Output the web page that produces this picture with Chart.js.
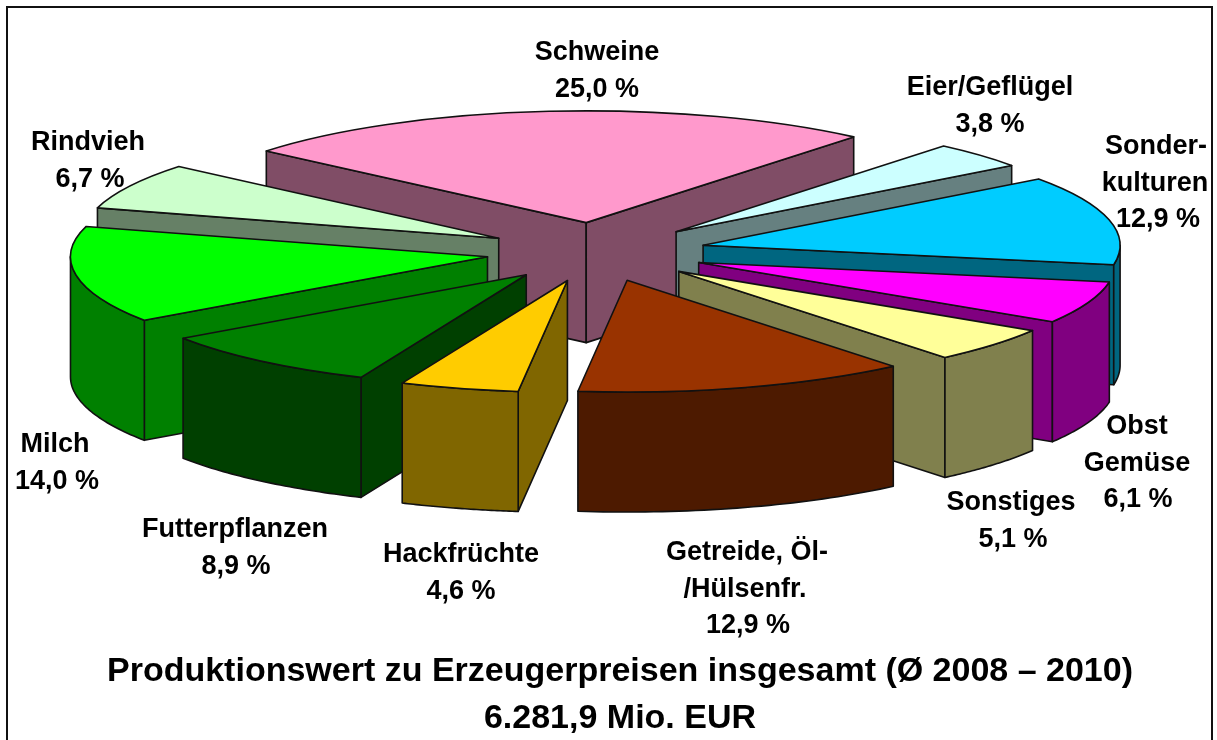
<!DOCTYPE html>
<html><head><meta charset="utf-8">
<style>html,body{margin:0;padding:0;background:#fff}#wrap{width:1217px;height:740px}</style>
<script src="https://cdn.jsdelivr.net/npm/chart.js@4"></script>
</head><body><div id="wrap"><canvas id="c" width="1217" height="740"></canvas></div>
<script>
const categories = ['Schweine','Eier/Geflügel','Sonderkulturen','Obst Gemüse','Sonstiges','Getreide, Öl-/Hülsenfr.','Hackfrüchte','Futterpflanzen','Milch','Rindvieh'];
const shares = [25.0,3.8,12.9,6.1,5.1,12.9,4.6,8.9,14.0,6.7];
const topColors = ['#FF99CC','#CCFFFF','#00CCFF','#FF00FF','#FFFF99','#993300','#FFCC00','#008000','#00FF00','#CCFFCC'];
const wallColors = ['#804D66','#668080','#006680','#800080','#80804D','#4D1A00','#806600','#004000','#008000','#668066'];
const titleLines = ['Produktionswert zu Erzeugerpreisen insgesamt (Ø 2008 – 2010)','6.281,9 Mio. EUR'];
const labelLines = [['Schweine','25,0 %'],['Eier/Geflügel','3,8 %'],['Sonder-','kulturen','12,9 %'],['Obst','Gemüse','6,1 %'],['Sonstiges','5,1 %'],['Getreide, Öl-','/Hülsenfr.','12,9 %'],['Hackfrüchte','4,6 %'],['Futterpflanzen','8,9 %'],['Milch','14,0 %'],['Rindvieh','6,7 %']];
// label anchor (centre x per line, first baseline y), line pitch
const labelAnchors = [[[597,597],60],[[990,990],95],[[1156,1155,1158],154],[[1137,1137,1138],434],[[1011,1013],510],[[747,745,748],560],[[461,461],562],[[235,236],537],[[55,57],452],[[88,90],150]];
const view = {cx:596, cy:252, squash:0.268, radius:417, explode:110, depth:120, rotation:-50.1};

const pie3d = {
  id:'pie3d',
  beforeDatasetDraw(chart, args){
    const ctx = chart.ctx, arcs = args.meta.data;
    const order = arcs.map((a,i)=>i).sort((p,q)=>{
      const m=i=>(arcs[i].startAngle+arcs[i].endAngle)/2; return Math.sin(m(p))-Math.sin(m(q));});
    ctx.save();
    ctx.lineJoin='round';
    ctx.strokeStyle='#111'; ctx.lineWidth=1.6;
    for(const i of order){
      const a=arcs[i], mid=(a.startAngle+a.endAngle)/2, R=a.outerRadius, wall=wallColors[i];
      const face=(draw)=>{ctx.fillStyle=wall; ctx.beginPath(); draw(); ctx.closePath();
        ctx.setTransform(1,0,0,1,0,0); ctx.fill(); ctx.stroke();};
      const ox=view.cx+Math.cos(mid)*view.explode, oy=view.cy+Math.sin(mid)*view.explode*view.squash;
      const P=(t,r)=>[ox+Math.cos(t)*r, oy+Math.sin(t)*r*view.squash];
      const radial=(t)=>{const e=P(t,R); face(()=>{ctx.moveTo(ox,oy);ctx.lineTo(e[0],e[1]);ctx.lineTo(e[0],e[1]+view.depth);ctx.lineTo(ox,oy+view.depth);});};
      if(Math.cos(a.startAngle)<0) radial(a.startAngle);
      if(Math.cos(a.endAngle)>0) radial(a.endAngle);
      // outer curved wall: front-facing angles only
      for(let k=-1;k<=2;k++){
        const lo=Math.max(a.startAngle,k*2*Math.PI), hi=Math.min(a.endAngle,k*2*Math.PI+Math.PI);
        if(hi>lo){
          face(()=>{
            const steps=40;
            for(let s=0;s<=steps;s++){const p=P(lo+(hi-lo)*s/steps,R); s?ctx.lineTo(p[0],p[1]):ctx.moveTo(p[0],p[1]);}
            for(let s=steps;s>=0;s--){const p=P(lo+(hi-lo)*s/steps,R); ctx.lineTo(p[0],p[1]+view.depth);}
          });
        }
      }
      // top face: the library's own arc element, drawn through the squash transform
      ctx.save();
      ctx.setTransform(1,0,0,view.squash, ox-a.x, oy-a.y*view.squash);
      a.draw(ctx);
      ctx.restore();
      ctx.save();
      ctx.setTransform(1,0,0,view.squash, ox, oy);
      ctx.beginPath(); ctx.moveTo(0,0); ctx.arc(0,0,R,a.startAngle,a.endAngle); ctx.closePath();
      ctx.setTransform(1,0,0,1,0,0); ctx.stroke();
      ctx.restore();
    }
    ctx.restore();
    return false;
  },
  afterDraw(chart){
    const ctx=chart.ctx; ctx.save();
    ctx.strokeStyle='#111'; ctx.lineWidth=2;
    ctx.beginPath(); ctx.moveTo(7,740); ctx.lineTo(7,7); ctx.lineTo(1212,7); ctx.lineTo(1212,740); ctx.stroke();
    ctx.fillStyle='#000'; ctx.textAlign='center'; ctx.textBaseline='alphabetic';
    ctx.font='bold 27px "Liberation Sans", Arial, sans-serif';
    labelLines.forEach((lines,i)=>{
      lines.forEach((t,j)=>ctx.fillText(t,labelAnchors[i][0][j],labelAnchors[i][1]+j*36.5));
    });
    ctx.font='bold 34px "Liberation Sans", Arial, sans-serif';
    ctx.fillText(titleLines[0],620,681);
    ctx.fillText(titleLines[1],620,728);
    ctx.restore();
  }
};
new Chart(document.getElementById('c'),{
  type:'pie',
  data:{labels:categories,datasets:[{data:shares,backgroundColor:topColors,borderWidth:0}]},
  options:{responsive:false,animation:false,rotation:view.rotation,radius:view.radius,
    plugins:{legend:{display:false},tooltip:{enabled:false}}},
  plugins:[pie3d]
});
</script></body></html>
